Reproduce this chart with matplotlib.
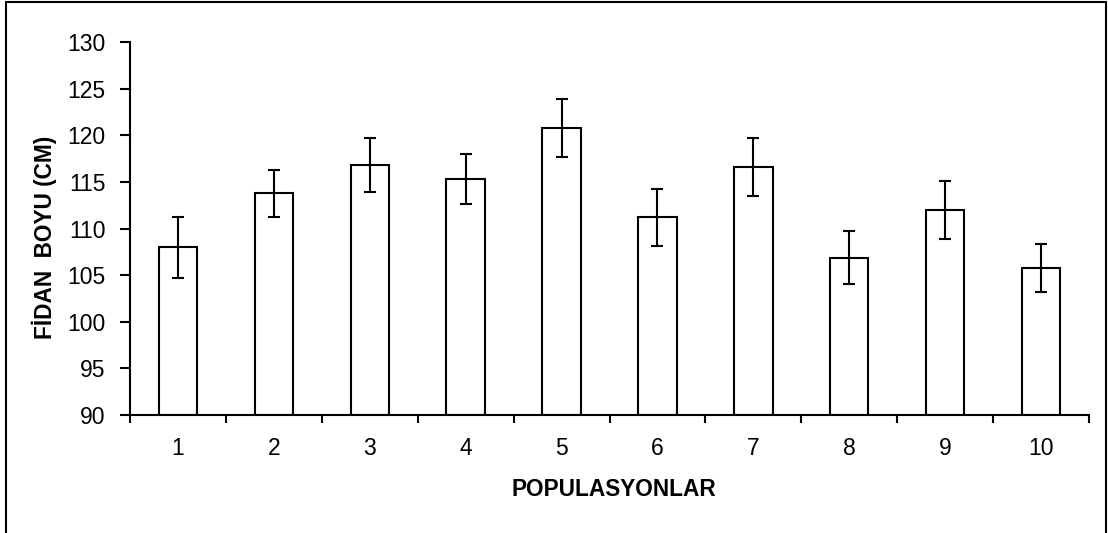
import matplotlib
matplotlib.use("Agg")
import matplotlib.pyplot as plt
from matplotlib.patches import Rectangle
import numpy as np

# Data
populations = ["1", "2", "3", "4", "5", "6", "7", "8", "9", "10"]
heights = [108.0, 113.8, 116.8, 115.3, 120.8, 111.2, 116.6, 106.9, 112.0, 105.8]
errors = [3.3, 2.5, 2.9, 2.7, 3.1, 3.1, 3.1, 2.8, 3.1, 2.6]

plt.rcParams["font.family"] = ["Liberation Sans", "DejaVu Sans"]

fig = plt.figure(figsize=(11.08, 5.33), dpi=100)
ax = fig.add_axes([130 / 1108, 1 - 415 / 533, (1089 - 130) / 1108, (415 - 42.3) / 533])

x = np.arange(1, len(populations) + 1)
ax.bar(x, [h - 90 for h in heights], bottom=90, width=0.4, color="white",
       edgecolor="black", linewidth=1.5, zorder=2)
ax.errorbar(x, heights, yerr=errors, fmt="none", ecolor="black",
            elinewidth=1.5, capsize=4.2, capthick=1.5, zorder=3)

ax.set_xlim(0.5, len(populations) + 0.5)
ax.set_ylim(90, 130)
ax.set_yticks(range(90, 131, 5))

# category boundaries get tick marks, labels sit at centers
ax.set_xticks(np.arange(0.5, len(populations) + 1, 1))
ax.set_xticklabels([])
ax.set_xticks(x, minor=True)
ax.set_xticklabels(populations, minor=True)
ax.tick_params(axis="x", which="minor", length=0, pad=16, labelsize=16.5)
ax.tick_params(axis="x", which="major", direction="out", length=6, width=1.5)
ax.tick_params(axis="y", direction="out", length=7, width=1.5, pad=10.5, labelsize=16.5)

for side in ["top", "right"]:
    ax.spines[side].set_visible(False)
for side in ["left", "bottom"]:
    ax.spines[side].set_linewidth(1.5)

fig.text(614 / 1108, 1 - 490 / 533, "POPULASYONLAR", ha="center", va="center",
         fontsize=16.3, fontweight="bold")
fig.text(44 / 1108, 1 - 237 / 533, "FİDAN  BOYU (CM)", ha="center", va="center",
         rotation=90, fontsize=16.3, fontweight="bold")

# outer chart frame
fig.add_artist(Rectangle((6 / 1108, -0.05), 1100 / 1108, 1.05 - 2 / 533,
                         transform=fig.transFigure, fill=False,
                         edgecolor="black", linewidth=1.5))

fig.savefig("out.png", dpi=100)
